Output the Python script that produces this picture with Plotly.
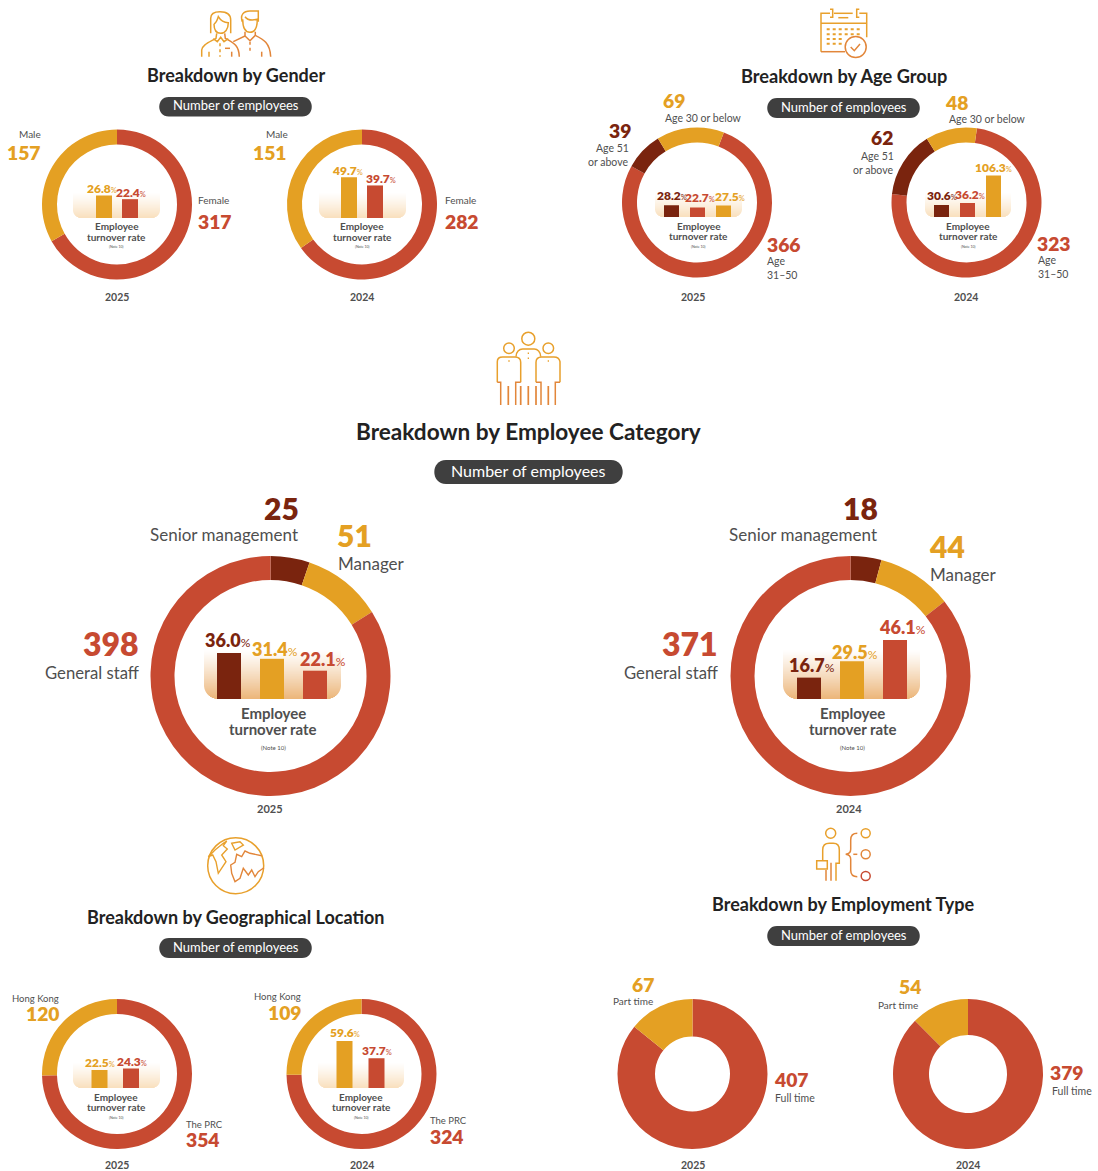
import plotly.graph_objects as go

# ---------- DATA ----------
GENDER_LABELS = ["Female", "Male"]
GENDER_2025 = [317, 157]
GENDER_2024 = [282, 151]
GENDER_RATE_LABELS = ["Male", "Female"]
GENDER_RATE_2025 = [26.8, 22.4]
GENDER_RATE_2024 = [49.7, 39.7]

AGE_LABELS = ["Age 31–50", "Age 51 or above", "Age 30 or below"]
AGE_2025 = [366, 39, 69]
AGE_2024 = [323, 62, 48]
AGE_RATE_LABELS = ["Age 51 or above", "Age 31–50", "Age 30 or below"]
AGE_RATE_2025 = [28.2, 22.7, 27.5]
AGE_RATE_2024 = [30.6, 36.2, 106.3]

CAT_LABELS = ["Senior management", "Manager", "General staff"]
CAT_2025 = [25, 51, 398]
CAT_2024 = [18, 44, 371]
CAT_RATE_2025 = [36.0, 31.4, 22.1]
CAT_RATE_2024 = [16.7, 29.5, 46.1]

GEO_LABELS = ["The PRC", "Hong Kong"]
GEO_2025 = [354, 120]
GEO_2024 = [324, 109]
GEO_RATE_LABELS = ["Hong Kong", "The PRC"]
GEO_RATE_2025 = [22.5, 24.3]
GEO_RATE_2024 = [59.6, 37.7]

TYPE_LABELS = ["Full time", "Part time"]
TYPE_2025 = [407, 67]
TYPE_2024 = [379, 54]

# ---------- STYLE ----------
W, H = 1098, 1171
RED, YEL, BRN = "#C74A31", "#E4A023", "#7A240E"
GRAY, DARK, PILL = "#4F4F4F", "#222222", "#3F3F3F"
IC1, IC2 = "#E8A02C", "#E2863A"
FONT = "Lato"
NUM = 19.3

fig = go.Figure()
shapes, notes = [], []


def txt(x, y, s, size, color=GRAY, anchor="center", weight=400):
    dx = {"right": 1.2, "left": -1, "center": 0}[anchor]
    small = weight == 400 and size <= 10.5
    year = s in ("2025", "2024")
    heading = 18 <= size <= 18.5
    dy = 0 if (small or year or heading) else -1
    notes.append(dict(x=x + dx, y=y + dy, xref="x", yref="y", text=s, showarrow=False,
                      xanchor=anchor, yanchor="middle", borderpad=0,
                      font=dict(family=FONT, size=size, color=color, weight=weight)))


def donut(cx, cy, r, vals, labels, colors, rotation=0, hole=0.8):
    fig.add_trace(go.Pie(values=vals, labels=labels, sort=False, direction="clockwise",
                         rotation=rotation, hole=hole, textinfo="none", showlegend=False,
                         hoverinfo="label+value",
                         marker=dict(colors=colors, line=dict(width=0)),
                         domain=dict(x=[(cx - r) / W, (cx + r) / W],
                                     y=[1 - (cy + r) / H, 1 - (cy - r) / H])))


def panel(x0, x1, top, base, bottom_rgb, radius):
    n = int(base - top)
    for i in range(n):
        y0 = top + i
        from_bot = base - y0
        inset = 0
        if from_bot < radius:
            d = radius - from_bot + 0.5
            inset = radius - max(radius * radius - d * d, 0) ** 0.5
        a = ((i + 1) / n) ** 1.15
        shapes.append(dict(type="rect", xref="x", yref="y", layer="below",
                           x0=x0 + inset, x1=x1 - inset, y0=y0, y1=y0 + 1,
                           line=dict(width=0),
                           fillcolor="rgba(%d,%d,%d,%.3f)" % (*bottom_rgb, a)))


axis_n = [1]


def minibars(rates, labels, colors, centers, bw, base, scale, fs, pct_fs, xshifts, gaps):
    """Turnover bars on their own axes; value labels are anchored to each bar's value."""
    axis_n[0] += 1
    k = axis_n[0]
    pitch = (centers[-1] - centers[0]) / (len(centers) - 1)
    left = centers[0] - pitch
    right = centers[-1] + pitch
    span_px = 90
    lift = 1.5 if fs < 15 else 0.7
    fig.add_trace(go.Bar(
        x=labels, y=rates, xaxis="x%d" % k, yaxis="y%d" % k, width=bw / pitch,
        marker=dict(color=colors, line=dict(width=0)), showlegend=False,
        cliponaxis=False, hoverinfo="x+y"))
    fig.update_layout({
        "xaxis%d" % k: dict(domain=[left / W, right / W], range=[-1, len(centers)],
                            visible=False, type="category", categoryorder="array",
                            categoryarray=labels, anchor="y%d" % k, fixedrange=True),
        "yaxis%d" % k: dict(domain=[1 - base / H, 1 - (base - span_px) / H],
                            range=[0, span_px / scale], visible=False,
                            anchor="x%d" % k, fixedrange=True),
    })
    for lab, v, c, xs, g in zip(labels, rates, colors, xshifts, gaps):
        notes.append(dict(
            x=lab, y=v, xref="x%d" % k, yref="y%d" % k, showarrow=False,
            text='%.1f<span style="font-size:%gpx;font-weight:400">%%</span>' % (v, pct_fs),
            xanchor="center", yanchor="middle", xshift=xs, yshift=g + lift, borderpad=0,
            font=dict(family=FONT, size=fs, color=c, weight=800)))


def caption(cx, y1, y2, y3, fs, nfs):
    txt(cx, y1, "Employee", fs, weight=700)
    txt(cx, y2, "turnover rate", fs, weight=700)
    txt(cx, y3, "(Note 10)", nfs)


def pill(x0, x1, y0, y1, fs):
    r = (y1 - y0) / 2
    shapes.append(dict(type="path", xref="x", yref="y", fillcolor=PILL, line=dict(width=0),
                       path=f"M {x0+r},{y0} H {x1-r} C {x1+r*0.3},{y0} {x1+r*0.3},{y1} {x1-r},{y1} "
                            f"H {x0+r} C {x0-r*0.3},{y1} {x0-r*0.3},{y0} {x0+r},{y0} Z"))
    txt((x0 + x1) / 2, (y0 + y1) / 2 - 0.5, "Number of employees", fs, color="#FFFFFF", weight=401)


def path(d, color=IC1, w=1.5, dash=None):
    line = dict(color=color, width=w)
    if dash:
        line["dash"] = dash
    shapes.append(dict(type="path", xref="x", yref="y", path=d, line=line,
                       fillcolor="rgba(0,0,0,0)"))


def zpath(ox, oy, cmds, color=IC1, w=1.5, dash=None, close=False):
    """Icon outline given in 3x-zoomed sketch units."""
    out = []
    for c in cmds:
        out.append(c[0] + " " + " ".join(f"{ox + c[i]/3:.1f},{oy + c[i+1]/3:.1f}" for i in range(1, len(c), 2)))
    path(" ".join(out) + (" Z" if close else ""), color, w, dash)


def ring(cx, cy, r, color=IC1, w=1.5):
    shapes.append(dict(type="circle", xref="x", yref="y", x0=cx - r, x1=cx + r, y0=cy - r, y1=cy + r,
                       line=dict(color=color, width=w), fillcolor="rgba(0,0,0,0)"))


# Invisible background pixel frame axes
fig.update_layout(
    xaxis=dict(range=[0, W], visible=False, domain=[0, 1], fixedrange=True),
    yaxis=dict(range=[H, 0], visible=False, domain=[0, 1], fixedrange=True),
)

MID = (236, 182, 122)
GEN_BG = (249, 224, 190)

# ---------- GENDER ----------
txt(235.5, 75, "Breakdown by Gender", 18, DARK, weight=700)
pill(159, 312, 97, 116.5, 13)
donut(117, 204.5, 75, GENDER_2025, GENDER_LABELS, [RED, YEL])
donut(362, 204.5, 75, GENDER_2024, GENDER_LABELS, [RED, YEL])
panel(73, 160, 193, 218, GEN_BG, 8)
panel(319, 406, 193, 218, GEN_BG, 8)
minibars(GENDER_RATE_2025, GENDER_RATE_LABELS, [YEL, RED], [104, 130], 16, 218, 0.84, 12, 7.5, [-2.5, 1], [5, 5.4])
minibars(GENDER_RATE_2024, GENDER_RATE_LABELS, [YEL, RED], [349, 375], 16, 218, 0.82, 12, 7.5, [-2, 6], [5, 5.5])
caption(116.5, 227, 238, 246.5, 10, 3.5)
caption(362, 227, 238, 246.5, 10, 3.5)
txt(116.5, 297, "2025", 10.5, weight=700)
txt(362, 297, "2024", 10.5, weight=700)
txt(41, 134, GENDER_LABELS[1], 10, anchor="right")
txt(41, 153, str(GENDER_2025[1]), NUM, YEL, "right", 800)
txt(198, 200, GENDER_LABELS[0], 10, anchor="left")
txt(198, 222, str(GENDER_2025[0]), NUM, RED, "left", 800)
txt(288, 134, GENDER_LABELS[1], 10, anchor="right")
txt(287, 153, str(GENDER_2024[1]), NUM, YEL, "right", 800)
txt(445, 200, GENDER_LABELS[0], 10, anchor="left")
txt(445, 222, str(GENDER_2024[0]), NUM, RED, "left", 800)

# ---------- AGE ----------
txt(843.5, 76, "Breakdown by Age Group", 18.2, DARK, weight=700)
pill(767, 920, 98, 118, 13)
donut(697, 202.5, 75, AGE_2025, AGE_LABELS, [RED, BRN, YEL], rotation=21)
donut(966.5, 202.5, 75, AGE_2024, AGE_LABELS, [RED, BRN, YEL], rotation=8)
panel(655, 742, 193, 217, GEN_BG, 8)
panel(925, 1011, 193, 217, GEN_BG, 8)
minibars(AGE_RATE_2025, AGE_RATE_LABELS, [BRN, RED, YEL], [671.5, 698.5, 723.5], 15, 217, 0.42, 12, 7.5, [0, 2.5, 6.5], [7.7, 8, 7])
minibars(AGE_RATE_2024, AGE_RATE_LABELS, [BRN, RED, YEL], [941.5, 968.5, 993.5], 15, 217, 0.39, 12, 7.5, [0, 2, -0.5], [8, 7.3, 6.7])
caption(698.5, 227, 237, 246.5, 10, 3.5)
caption(968, 227, 237, 246.5, 10, 3.5)
txt(693, 297, "2025", 10.5, weight=700)
txt(966, 297, "2024", 10.5, weight=700)
txt(663, 101, str(AGE_2025[2]), NUM, YEL, "left", 800)
txt(665, 118, AGE_LABELS[2], 10.5, anchor="left")
txt(631, 131, str(AGE_2025[1]), NUM, BRN, "right", 800)
txt(629, 148, "Age 51", 10.5, anchor="right")
txt(628, 162, "or above", 10.5, anchor="right")
txt(767, 245, str(AGE_2025[0]), NUM, RED, "left", 800)
txt(767, 261, "Age", 10.5, anchor="left")
txt(767, 275, "31–50", 10.5, anchor="left")
txt(945, 103, str(AGE_2024[2]), NUM, YEL, "left", 800)
txt(949, 119, AGE_LABELS[2], 10.5, anchor="left")
txt(893, 138, str(AGE_2024[1]), NUM, BRN, "right", 800)
txt(894, 156, "Age 51", 10.5, anchor="right")
txt(893, 170, "or above", 10.5, anchor="right")
txt(1037, 244.5, str(AGE_2024[0]), NUM, RED, "left", 800)
txt(1038, 260, "Age", 10.5, anchor="left")
txt(1038, 274, "31–50", 10.5, anchor="left")

# ---------- CATEGORY ----------
txt(528, 432, "Breakdown by Employee Category", 22.6, DARK, weight=700)
pill(434, 623, 460, 484, 16)
donut(270.5, 676, 120, CAT_2025, CAT_LABELS, [BRN, YEL, RED])
donut(850.5, 676, 120, CAT_2024, CAT_LABELS, [BRN, YEL, RED])
panel(204, 341, 650, 699, MID, 14)
panel(783, 920, 650, 699, MID, 14)
minibars(CAT_RATE_2025, CAT_LABELS, [BRN, YEL, RED], [229, 272, 315], 24, 699, 1.28, 18, 12, [-1, 3, 8], [12, 9, 10.7])
minibars(CAT_RATE_2024, CAT_LABELS, [BRN, YEL, RED], [809, 852, 895], 24, 699, 1.28, 18, 12, [3, 2.5, 7.5], [12, 9, 12])
caption(273, 714, 730, 747, 15, 6)
caption(852.5, 714, 730, 747, 15, 6)
txt(269.5, 808, "2025", 11, weight=700)
txt(849, 808, "2024", 11, weight=700)
txt(281, 509, str(CAT_2025[0]), 30, BRN, weight=800)
txt(298, 535, CAT_LABELS[0], 17, anchor="right")
txt(337, 536, str(CAT_2025[1]), 30, YEL, "left", 800)
txt(338, 564, CAT_LABELS[1], 17, anchor="left")
txt(139, 644, str(CAT_2025[2]), 32, RED, "right", 800)
txt(139, 674, CAT_LABELS[2], 16.7, anchor="right")
txt(860, 509, str(CAT_2024[0]), 30, BRN, weight=800)
txt(877, 535, CAT_LABELS[0], 17, anchor="right")
txt(929, 547, str(CAT_2024[1]), 30, YEL, "left", 800)
txt(930, 575, CAT_LABELS[1], 17, anchor="left")
txt(718, 644, str(CAT_2024[2]), 32, RED, "right", 800)
txt(718, 674, CAT_LABELS[2], 16.7, anchor="right")

# ---------- GEOGRAPHY ----------
txt(236, 917, "Breakdown by Geographical Location", 18, DARK, weight=700)
pill(159, 312, 938, 958, 13)
donut(117, 1074, 75, GEO_2025, GEO_LABELS, [RED, YEL])
donut(361.5, 1074, 75, GEO_2024, GEO_LABELS, [RED, YEL])
panel(73, 160, 1063, 1088, GEN_BG, 8)
panel(318, 404, 1063, 1088, GEN_BG, 8)
minibars(GEO_RATE_2025, GEO_RATE_LABELS, [YEL, RED], [99.5, 131], 16, 1088, 0.8, 12, 7.5, [0, 0.5], [6, 5.5])
minibars(GEO_RATE_2024, GEO_RATE_LABELS, [YEL, RED], [344.5, 376.5], 16, 1088, 0.79, 12, 7.5, [0.5, 0], [7, 6])
caption(116, 1098, 1108, 1117, 10, 3.5)
caption(361, 1098, 1108, 1117, 10, 3.5)
txt(116.5, 1165, "2025", 10.5, weight=700)
txt(361.5, 1165, "2024", 10.5, weight=700)
txt(59, 998, GEO_LABELS[1], 9.5, anchor="right")
txt(60, 1014, str(GEO_2025[1]), NUM, YEL, "right", 800)
txt(186, 1124, GEO_LABELS[0], 9.5, anchor="left")
txt(186, 1140, str(GEO_2025[0]), NUM, RED, "left", 800)
txt(301, 996, GEO_LABELS[1], 9.5, anchor="right")
txt(302, 1013, str(GEO_2024[1]), NUM, YEL, "right", 800)
txt(430, 1120, GEO_LABELS[0], 9.5, anchor="left")
txt(430, 1137, str(GEO_2024[0]), NUM, RED, "left", 800)

# ---------- EMPLOYMENT TYPE ----------
txt(843.5, 904, "Breakdown by Employment Type", 18, DARK, weight=700)
pill(767, 920, 926, 946, 13)
donut(692.5, 1074, 75, TYPE_2025, TYPE_LABELS, [RED, YEL], hole=0.5)
donut(968, 1074, 75, TYPE_2024, TYPE_LABELS, [RED, YEL], hole=0.52)
txt(693, 1165, "2025", 10.5, weight=700)
txt(968, 1165, "2024", 10.5, weight=700)
txt(654, 985, str(TYPE_2025[1]), NUM, YEL, "right", 800)
txt(653, 1000.5, TYPE_LABELS[1], 10, anchor="right")
txt(774, 1080, str(TYPE_2025[0]), NUM, RED, "left", 800)
txt(775, 1098, TYPE_LABELS[0], 10.5, anchor="left")
txt(921, 987, str(TYPE_2024[1]), NUM, YEL, "right", 800)
txt(918, 1004.5, TYPE_LABELS[1], 10, anchor="right")
txt(1050, 1073, str(TYPE_2024[0]), NUM, RED, "left", 800)
txt(1052, 1091, TYPE_LABELS[0], 10.5, anchor="left")

# ---------- ICONS ----------
# gender
zpath(0, 0, [("M", 632, 100), ("L", 632, 55), ("C", 632, 40, 645, 35, 660, 35), ("C", 680, 35, 692, 42, 692, 60), ("L", 692, 100)])
zpath(0, 0, [("M", 642, 72), ("C", 642, 90, 650, 100, 662, 100), ("C", 675, 100, 685, 88, 685, 68), ("C", 672, 68, 662, 62, 655, 50), ("C", 652, 60, 648, 68, 642, 72)])
zpath(0, 0, [("M", 605, 170), ("L", 605, 150), ("C", 607, 135, 625, 128, 648, 115), ("L", 650, 100)])
zpath(0, 0, [("M", 674, 100), ("L", 676, 115), ("C", 700, 128, 717, 135, 718, 170)], IC2)
zpath(0, 0, [("M", 640, 116), ("L", 652, 125), ("L", 662, 112), ("L", 672, 125), ("L", 685, 116)])
zpath(0, 0, [("M", 660, 130), ("L", 660, 170)], dash="dot")
zpath(0, 0, [("M", 675, 145), ("L", 690, 145)], IC2)
zpath(0, 0, [("M", 627, 155), ("L", 627, 170)])
zpath(0, 0, [("M", 695, 155), ("L", 695, 170)], IC2)
zpath(0, 0, [("M", 727, 65), ("C", 720, 45, 730, 33, 750, 33), ("L", 775, 33), ("L", 775, 65)])
zpath(0, 0, [("M", 728, 58), ("C", 728, 85, 738, 97, 750, 97), ("C", 765, 97, 772, 82, 772, 58), ("C", 755, 62, 742, 60, 735, 50)])
zpath(0, 0, [("M", 700, 125), ("L", 735, 108), ("L", 735, 95)], IC2)
zpath(0, 0, [("M", 735, 108), ("L", 750, 122), ("L", 766, 106), ("L", 766, 95)], IC2)
zpath(0, 0, [("M", 766, 106), ("C", 790, 118, 810, 128, 812, 170)], IC2)
zpath(0, 0, [("M", 750, 125), ("L", 750, 160)], IC2, dash="dot")
zpath(0, 0, [("M", 785, 155), ("L", 785, 170)], IC2)

# calendar
zpath(580, 0, [("M", 723, 70), ("L", 860, 70)])
zpath(580, 0, [("M", 723, 155), ("L", 723, 40), ("L", 750, 40)])
zpath(580, 0, [("M", 762, 40), ("L", 818, 40)])
zpath(580, 0, [("M", 838, 40), ("L", 860, 40), ("L", 860, 112)])
zpath(580, 0, [("M", 723, 155), ("L", 795, 155)], IC2)
zpath(580, 0, [("M", 750, 28), ("L", 758, 28), ("L", 758, 52), ("L", 750, 52)])
zpath(580, 0, [("M", 838, 28), ("L", 830, 28), ("L", 830, 52), ("L", 838, 52)])
zpath(580, 0, [("M", 775, 53), ("L", 805, 53)])
for row, xe in [(88, 845), (103, 845), (117, 785), (131, 785)]:
    zpath(580, 0, [("M", 740, row), ("L", xe, row)], IC1, 2, dash="dot")
ring(855.7, 47, 10.5, IC2)
zpath(580, 0, [("M", 812, 141), ("L", 823, 152), ("L", 840, 132)], IC2)

# people
ring(528.3, 338.7, 6.5)
ring(509, 348.3, 5.3)
ring(548.3, 348.3, 5.3)
zpath(480, 325, [("M", 52, 172), ("L", 52, 110), ("C", 52, 100, 58, 96, 68, 96), ("L", 105, 96), ("C", 118, 96, 122, 102, 122, 112), ("L", 122, 172), ("L", 122, 172)])
zpath(480, 325, [("M", 168, 172), ("L", 168, 112), ("C", 168, 102, 172, 96, 185, 96), ("L", 222, 96), ("C", 232, 96, 238, 100, 240, 110), ("L", 240, 172)])
zpath(480, 325, [("M", 108, 95), ("C", 108, 80, 118, 72, 128, 72), ("L", 163, 72), ("C", 172, 72, 182, 80, 182, 95)])
zpath(480, 325, [("M", 52, 172), ("L", 62, 172), ("L", 62, 240)], IC2)
zpath(480, 325, [("M", 122, 172), ("L", 107, 172), ("L", 107, 240)], IC2)
zpath(480, 325, [("M", 168, 172), ("L", 183, 172), ("L", 183, 240)], IC2)
zpath(480, 325, [("M", 240, 172), ("L", 226, 172), ("L", 226, 240)], IC2)
for lx in (85, 122, 145, 168, 205):
    zpath(480, 325, [("M", lx, 183), ("L", lx, 240)], IC2, 1.7)
for dx, dy in [(145, 85), (145, 100), (87, 108), (205, 108)]:
    zpath(480, 325, [("M", dx - 2, dy), ("L", dx + 2, dy)], IC1, 1.5)

# globe
ring(235.7, 865.7, 28, IC1)
zpath(190, 825, [("M", 55, 95), ("L", 75, 75), ("L", 100, 55), ("L", 110, 48), ("L", 100, 62), ("L", 112, 72), ("L", 95, 90), ("L", 108, 110), ("L", 85, 145), ("L", 78, 110), ("L", 68, 90)], IC1, 1.4, close=True)
zpath(190, 825, [("M", 125, 55), ("L", 150, 50), ("L", 160, 60), ("L", 135, 75)], IC1, 1.4, close=True)
zpath(190, 825, [("M", 215, 92), ("L", 180, 85), ("L", 165, 78), ("L", 155, 95), ("L", 140, 88), ("L", 135, 112), ("L", 122, 120), ("L", 125, 145), ("L", 135, 170), ("L", 150, 160), ("L", 160, 130), ("L", 175, 150), ("L", 185, 135), ("L", 195, 155), ("L", 205, 140), ("L", 222, 128)], IC2, 1.4)

# employment type
ring(830.7, 833.3, 5)
zpath(800, 820, [("M", 68, 120), ("L", 68, 90), ("C", 68, 76, 76, 70, 88, 70), ("L", 100, 70), ("C", 112, 70, 118, 76, 118, 90), ("L", 118, 130), ("L", 108, 130), ("L", 108, 182)])
zpath(800, 820, [("M", 50, 122), ("L", 82, 122), ("L", 82, 147), ("L", 50, 147)], IC1, close=True)
for lx in (78, 93):
    zpath(800, 820, [("M", lx, 150 if lx == 78 else 128), ("L", lx, 182)], IC2)
zpath(800, 820, [("M", 172, 40), ("C", 158, 40, 152, 46, 152, 60), ("L", 152, 88), ("C", 152, 98, 147, 102, 137, 103), ("C", 147, 104, 152, 108, 152, 118), ("L", 152, 150), ("C", 152, 164, 158, 170, 172, 170)], IC2)
zpath(800, 820, [("M", 160, 103), ("L", 172, 103)], IC2)
ring(865.7, 833.3, 4.5, IC1)
ring(865.7, 854.3, 4.5, IC2)
ring(865.7, 876, 4.5, RED)

fig.update_layout(
    width=W, height=H, autosize=False, margin=dict(l=0, r=0, t=0, b=0, pad=0),
    paper_bgcolor="white", plot_bgcolor="rgba(0,0,0,0)", showlegend=False,
    barmode="overlay", shapes=shapes, annotations=notes,
    font=dict(family=FONT, color=GRAY),
)

fig.write_html("out.html", config=dict(displayModeBar=False, responsive=False),
               post_script="document.body.style.margin='0';document.documentElement.style.overflow='hidden';")
